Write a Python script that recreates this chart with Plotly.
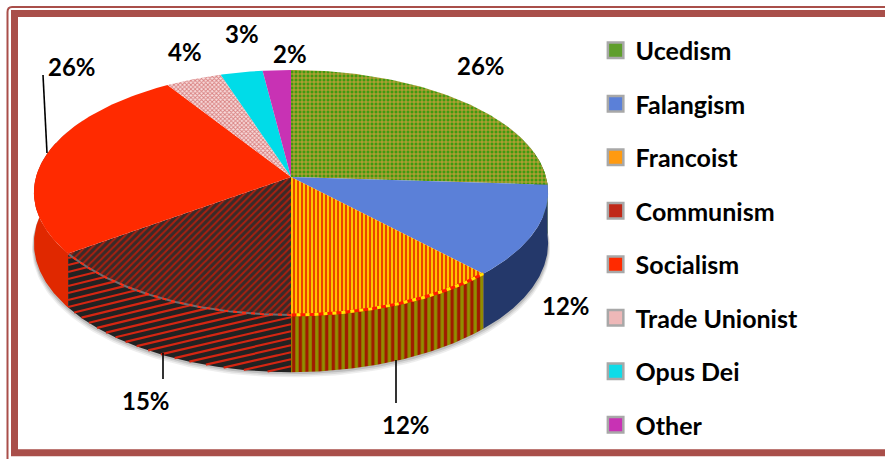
import numpy as np
import plotly.graph_objects as go

# ---- data ----
categories = ["Ucedism", "Falangism", "Francoist", "Communism",
              "Socialism", "Trade Unionist", "Opus Dei", "Other"]
values = [26, 12, 12, 15, 26, 4, 3, 2]

# ---- styles ----
top_bg = ["#3f9a10", "#5b80d8", "#ffc400", "#3a2a28", "#ff2a00", "#f8dcdc", "#00dce8", "#c832b4"]
top_fg = ["#d8a040", None, "#ea4400", "#a82010", None, "#d88080", None, None]
top_shape = ["+", None, "|", "/", None, "x", None, None]
top_size = [4, None, 4, 5, None, 3, None, None]
top_sol = [0.4, None, 0.5, 0.4, None, 0.5, None, None]
wall_bg = ["#3a6a10", "#24386a", "#8f8f00", "#222222", "#e02800", "#b08080", "#00a8b0", "#902080"]
swatch = ["#5f9e2c", "#5b80d8", "#ff9a10", "#c02818", "#ff2a00", "#eeb8b8", "#10dce8", "#c832b4"]
LEG_FONT = dict(family="Lato", size=25, color="black", weight="bold")
LAB_FONT = dict(family="Lato", size=24, color="black", weight="bold")
FRAME = "#a94f4a"

# projection of the tilted disc onto the page (pixels)
CX, CY, C, A, B, D = 291, 177, 255, 120.5, -0.1265, 50


def top(th):
    t = -np.cos(th)
    k = 1 + B * t
    return CX + C * np.sin(th) / k, CY + A * t / k


def bottom(th):
    x, y = top(th)
    return x, y + D / (1 + B * (-np.cos(th)))


def arc(a, b, n=80):
    return np.linspace(a, b, n)


total = sum(values)
edges = np.cumsum([0] + values) / total * 2 * np.pi

fig = go.Figure()

# soft shadow under the pie
for off, op in [(5, 0.10), (3.5, 0.14), (2, 0.22)]:
    th = arc(np.radians(60), np.radians(300), 160)
    xb, yb = bottom(th)
    xt, yt = top(th)
    fig.add_trace(go.Scatter(
        x=np.r_[xt, (xb + np.sign(xb - CX) * off * 0.4)[::-1]],
        y=np.r_[yt, (yb + off)[::-1]],
        mode="lines", fill="toself", line=dict(width=0),
        fillcolor=f"rgba(90,90,90,{op})", hoverinfo="skip", showlegend=False))

# side walls, left-hand one first
wall_ranges = {
    4: (edges[4], np.radians(287)),
    0: (np.radians(78), edges[1]),
    1: (edges[1], edges[2]),
    2: (edges[2], edges[3]),
    3: (edges[3], edges[4]),
}

for i in [4, 0, 1, 3, 2]:
    a, b = wall_ranges[i]
    th = arc(a, b)
    xt, yt = top(th)
    xb, yb = bottom(th)
    kw = {}
    if i == 2:
        kw["fillpattern"] = dict(shape="|", size=6.6, solidity=0.5,
                                 fgcolor="#a01a00", bgcolor="#8f8f00", fillmode="replace")
    else:
        kw["fillcolor"] = wall_bg[i]
    fig.add_trace(go.Scatter(
        x=np.r_[xt, xb[::-1]], y=np.r_[yt, yb[::-1]],
        mode="lines", fill="toself", line=dict(width=0),
        name=categories[i] + " side", hoverinfo="skip", showlegend=False, **kw))

# slanted stripes on the Communism wall
a, b = wall_ranges[3]
th = arc(a, b, 400)
xt, yt = top(th)
xb, yb = bottom(th)
xs = xt[::-1]
yt_s, yb_s = yt[::-1], yb[::-1]
for off in np.arange(230, 470, 7.0):
    ys = off - 0.25 * (xs - xs[0]) + 0.00006 * (xs - xs[0]) ** 2
    ys = np.where((ys >= yt_s) & (ys <= yb_s), ys, np.nan)
    fig.add_trace(go.Scatter(x=xs, y=ys, mode="lines",
                             line=dict(color="#d42612", width=2.2),
                             hoverinfo="skip", showlegend=False))

# top slices
for i, cat in enumerate(categories):
    th = arc(edges[i], edges[i + 1], 90)
    xt, yt = top(th)
    kw = {}
    if top_shape[i]:
        kw["fillpattern"] = dict(shape=top_shape[i], size=top_size[i], solidity=top_sol[i],
                                 fgcolor=top_fg[i], bgcolor=top_bg[i], fillmode="replace")
    else:
        kw["fillcolor"] = top_bg[i]
    fig.add_trace(go.Scatter(
        x=np.r_[CX, xt, CX], y=np.r_[CY, yt, CY],
        mode="lines", fill="toself", line=dict(width=0),
        name=cat, text=f"{cat}: {values[i]}%", hoverinfo="text", showlegend=False, **kw))

# dashed rim along the front edge of the patterned slices
for i, base, dash, w in [(2, "#ff1c00", "#ffe800", 3), (3, "#6c6c70", "#ff2a10", 2)]:
    xt, yt = top(arc(edges[i], edges[i + 1], 120))
    fig.add_trace(go.Scatter(x=xt, y=yt, mode="lines", line=dict(color=base, width=w),
                             hoverinfo="skip", showlegend=False))
    fig.add_trace(go.Scatter(x=xt, y=yt, mode="lines",
                             line=dict(color=dash, width=w, dash="4px,5px"),
                             hoverinfo="skip", showlegend=False))

# legend entries
for i, cat in enumerate(categories):
    fig.add_trace(go.Scatter(
        x=[None], y=[None], mode="markers", name=cat, legendgroup=cat,
        marker=dict(symbol="square", size=15.5, color=swatch[i],
                    line=dict(color="#a8a8a8", width=2.5))))

# leader lines
leaders = [((43, 75), (47, 153)), ((396, 360), (396, 403)), ((163, 353), (163, 379))]
for (x0, y0), (x1, y1) in leaders:
    fig.add_shape(type="line", x0=x0, y0=y0, x1=x1, y1=y1,
                  line=dict(color="black", width=1.6), layer="above")

# data labels
label_pos = [(481, 65), (566, 305), (406, 424), (146, 400), (72, 66), (185, 51), (242, 33), (290, 53)]
for v, (x, y) in zip(values, label_pos):
    fig.add_annotation(x=x, y=y, text=f"{v}%", showarrow=False, font=LAB_FONT,
                       xanchor="center", yanchor="middle")

# frame
fig.add_shape(type="path", xref="x", yref="y",
              path="M 900 7 L 12 7 Q 7.5 7 7.5 12 L 7.5 470",
              line=dict(color=FRAME, width=2))
fig.add_shape(type="path", xref="x", yref="y",
              path="M 900 13.5 L 14.5 13.5 L 14.5 452.7 L 900 452.7",
              line=dict(color=FRAME, width=7))

fig.update_layout(
    width=885, height=459, margin=dict(l=0, r=0, t=0, b=0), autosize=False,
    paper_bgcolor="white", plot_bgcolor="white",
    xaxis=dict(range=[0, 885], visible=False, fixedrange=True),
    yaxis=dict(range=[459, 0], visible=False, fixedrange=True),
    hovermode="closest",
    legend=dict(x=0.673, y=0.94, xanchor="left", yanchor="top", font=LEG_FONT,
                bgcolor="rgba(0,0,0,0)", itemwidth=30, tracegroupgap=18.0),
)
fig.update_traces(cliponaxis=False, selector=dict(type="scatter"))
fig.write_html("out.html", config=dict(displayModeBar=False),
               post_script="document.body.style.margin='0';document.body.style.overflow='hidden';")
